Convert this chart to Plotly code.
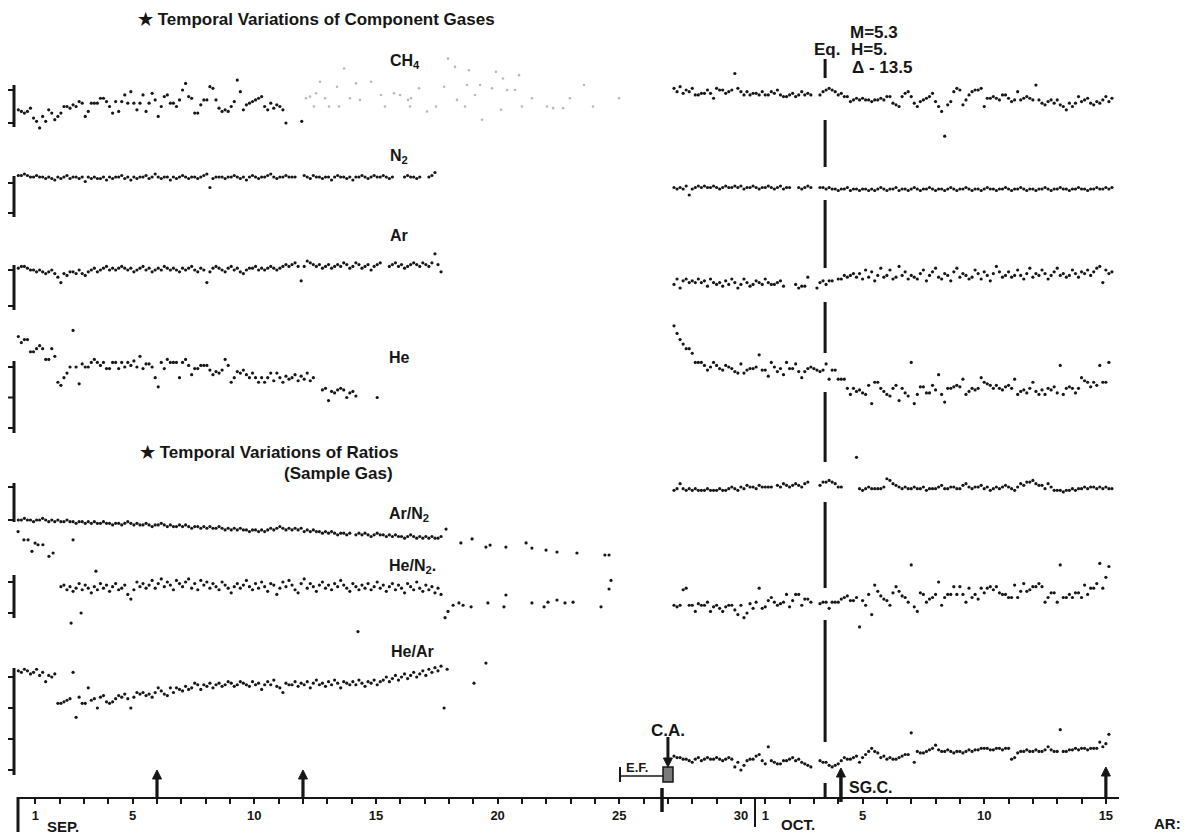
import plotly.graph_objects as go

W, H = 1184, 839

# ---- time base -------------------------------------------------------------
# day index: 1 = Sep 1, 30 = Sep 30, 31 = Oct 1 ... 45 = Oct 15
STEP = 0.125            # sampling interval, days (every 3 h)
LEFT_START = 0.3        # first sample of the September run
RIGHT_START = 27.25     # first sample after the restart (C.A.)
HEN2_START = 2.05       # He/N2 ratio run begins later

EQ_DAY = 33.46
CA_DAY = 27.0
SGC_DAY = 34.11
ARROW_DAYS = [6, 12, 45]

tick_days = list(range(1, 46))
label_days = [1, 5, 10, 15, 20, 25, 30, 31, 35, 40, 45]
label_text = ["1", "5", "10", "15", "20", "25", "30", "1", "5", "10", "15"]

# ---- CH4 -------------------------------------------------------------------
ch4_left = [8, 7, 6, 7, 9, 3, 1, -3, 4, 1, 8, 6, 2, 4, 6, 10, 10, 9, 11, 10,
            13, 12, 4, 7, 12, 12, 12, 15, 15, 13, 10, 6, 13, 7, 13, 17, 12, 19, 12, 8,
            12, 17, 7, 12, 18, 14, 4, 10,
            16, 17, 12, 12, 10, 14, 20, 24, 16, 15, 6, 6, 11, 14, 14, 22, 21, 14, 9, 7,
            8, 7, 10, 13, 26, 19, 8, 11, 12, 13, 14, 15, 16, 10, 8, 12, 9, 11, 10, 8]
ch4_extra_day = [11.3, 11.95]
ch4_extra_val = [0, 1]
ch4_faint_day = [12.12, 12.29, 12.45, 12.54, 12.70, 12.91, 13.07, 13.40, 13.48, 13.69,
                 13.93, 14.18, 14.34, 14.80, 15.21, 15.37, 15.74, 15.99, 16.32, 16.40,
                 16.44, 16.77, 17.10, 17.47, 17.80, 17.96, 18.25, 18.33, 18.66, 18.74,
                 18.82, 19.07, 19.28, 19.36, 19.77, 19.93, 20.14, 20.22, 20.39, 20.71,
                 20.88, 21.00, 21.41, 22.03, 22.28, 22.69, 22.97, 23.55, 23.92, 24.99]
ch4_faint_val = [15, 16, 10, 18, 25, 15, 10, 22, 10, 33, 15, 24, 14, 25, 17, 10, 18, 17, 14, 10,
                 15, 21, 7, 10, 22, 39, 34, 14, 10, 23, 32, 17, 23, 2, 21, 31, 8, 27, 20, 20,
                 29, 10, 15, 10, 9, 9, 15, 23, 10, 15]
ch4_right = [21, 19, 22, 18, 20, 19, 21, 17, 17, 18, 18, 20, 18, 15, 21, 20, 20, 18, 19, 20,
             30, 21, 19, 17, 19, 17, 18, 18, 17, 19, 17, 17, 19, 18, 20, 17, 16, 16, 17, 18,
             16, 17, 19, 17, 18, 17, None, None,
             17, 19, 20, 21, 20, 19, 17, 18, 16, 16, 13, 14, 15, 14, 15, 14, 14, 13, 14, 14,
             15, 14, 16, 16, 12, 11, 10, 16, 18, 19, 16, 12, 10, 13, 14, 15, 16, 18, 13, 10,
             7, -8, 11, 13, 19, 21, 20, 11, 14, 17, 19, 20, 20, 21, 10, 15, 15, 16, 15, 14,
             17, 17, 15, 13, 14, 19, 14, 15, 16, 15, 14, 23, 14, 12, 11, 13, 14, 12, 14, 11,
             10, 8, 12, 10, 12, 16, 13, 14, 15, 12, 11, 13, 12, 14, 16, 13, 15]

# ---- N2 --------------------------------------------------------------------
n2_left = [25, 25, 26, 25, 24, 24, 25, 24, 24, 23, 24, 23, 22, 24, 23, 24, 25, 23, 24, 24,
           23, 24, 21, 24, 23, 24, 23, 23, 24, 22, 24, 23, 24, 24, 25, 23, 24, 22, 24, 23,
           24, 24, 25, 23, 24, 26, 24, 23, 24, 24, 22, 24, 23, 24, 25, 24, 23, 24, 24, 23,
           24, 25, 26, 17, 23, 24, 24, 24, 23, 24, 24, 25, 24, 23, 24, 22, 24, 25, 24, 23,
           24, 24, 25, 26, 24, 23, 24, 24, 25, 24, 24, 24, None, None, 25, 24, 23, 25, 24, 24,
           23, 24, 24, 22, 24, 25, 24, 24, 23, 24, 22, 24, 24, 25, 24, 23, 24, 25, 24, 24,
           25, 24, 23, 24, None, None, None, 24, 25, 24, 24, 23, 24, None, None, 24, 25, 27]
n2_right = [17, 16, 17, 16, 18, 12, 16, 17, 18, 17, 18, 17, 17, 18, 17, 16, 17, 18, 17, 17,
            18, 17, 18, 16, 17, 17, 18, 17, 16, 17, 17, 18, 17, 16, 17, 18, 16, 17, 17, None,
            None, 17, 16, 17, 18, 17, None, None, 17, 17, 16, 17, 16, 16, 15, 16, 16, 17, 15, 16,
            16, 15, 16, 16, 15, 16, 15, 16, 17, 16, 15, 16, 16, 17, 15, 16, 16, 15, 16, 17,
            16, 15, 16, 16, 17, 16, 15, 16, 16, 15, 16, 17, 16, 15, 16, 16, 17, 16, 15, 16,
            16, 15, 16, 17, 16, 16, 15, 16, 16, 17, 16, 15, 16, 16, 17, 16, 15, 16, 16, 15,
            16, 16, 17, 16, 15, 16, 16, 17, 16, 16, 15, 16, 16, 17, 16, 16, 15, 16, 16, 17,
            16, 16, 17, 16, 17]

# ---- Ar --------------------------------------------------------------------
ar_left = [21, 22, 22, 21, 20, 20, 19, 20, 19, 18, 19, 20, 18, 16, 13, 18, 17, 19, 19, 18,
           20, 18, 17, 19, 20, 21, 19, 20, 21, 22, 20, 21, 20, 21, 22, 21, 20, 21, 19, 20,
           21, 22, 20, 21, 19, 20, 21, 20, 22, 21, 20, 21, 20, 19, 21, 20, 21, 22, 20, 19,
           21, 20, 13, 19, 21, 22, 21, 20, 19, 21, 22, 20, 21, 19, 18, 20, 21, 21, 22, 20,
           21, 20, 21, 22, 21, 20, 21, 22, 23, 22, 23, 24, 22, 14, 22, 25, 24, 23, 22, 23,
           21, 22, 23, 21, 22, 23, 22, 24, 23, 21, 22, 24, 23, 21, 22, 23, 20, 22, 23, 24,
           None, None, 22, 23, 24, 22, 23, 21, 22, 23, 24, 23, 22, 24, 23, 22, 24, 29, 23, 19]
ar_right = [12, 15, 10, 14, 15, 13, 14, 13, 15, 13, 14, 11, 15, 13, 12, 13, 11, 14, 12, 15,
            13, 10, 12, 15, 13, 11, 12, 14, 13, 12, 15, 13, 12, 12, 13, 14, 11, None, None, None,
            12, 10, 11, 11, 16, None, None, 10, 13, 14, 12, 14, 14, None, 15, 15, 17, 16, 17, 18,
            16, 18, 15, 20, 16, 19, 14, 17, 21, 16, 17, 20, 15, 16, 22, 17, 19, 15, 17, 16,
            15, 18, 20, 14, 17, 19, 21, 16, 15, 18, 17, 14, 19, 21, 16, 18, 17, 15, 16, 20,
            18, 15, 19, 17, 14, 18, 22, 19, 16, 17, 19, 16, 17, 20, 17, 15, 18, 21, 16, 18,
            17, 20, 18, 15, 17, 19, 21, 17, 18, 16, 17, 20, 18, 16, 19, 18, 20, 17, 19, 21,
            22, 13, 20, 18, 19]

# ---- He --------------------------------------------------------------------
he_left = [60, 56, 58, 58, 50, 50, 52, 54, 52, 45, 45, 52, 47, 30, 28, 33, 36, 40, 64, 40,
           29, 42, 40, 40, 43, 45, 43, 41, 43, 39, 39, 43, 43, 39, 43, 40, 43, 41, 44, 40,
           47, 39, 42, 42, 40, 33, 27, 43,
           39, 45, 43, 43, 43, 33, 43, 45, 41, 35, 39, 39, 41, 41, 41, 38, 35, 37, 36, 38,
           45, 41, 30, 33, 37, 36, 38, 35, 33, 36, 33, 30, 33, 30, 33, 36, 31, 36, 33, 30,
           34, 32, 33, 35, 31, 34, 32, 36, 31, 33,
           None, None, 25, 26, 18, 24, 23, 25, 26, 25, 20, 23, 24, 21,
           None, None, None, None, None, None, 20]
he_right = [67, 62, 58, 55, 52, 52, 49, 43, 43, 43, 41, 38, 40, 43, 41, 39, 38, 41, 40, 39,
            37, 36, 42, 36, 38, 39, 39, 40, 48, 38, 38, 34, 43, 40, 37, 39, 35, 43, 39, 39,
            42, 37, 33, 37, 39, 40, 39, 38, 37, 38, 42, 32, 38, 38, 32, 32, 32, 26, 22, 26,
            24, 25, 23, 22, 28, 16, 30, 30, 26, 24, 22, 21, 26, 28, 18, 26, 23, 21, 43, 16,
            22, 27, 27, 23, 23, 28, 25, 35, 22, 17, 26, 26, 27, 28, 27, 32, 22, 24, 26, 25,
            26, 33, 30, 29, 28, 26, 28, 26, 25, 27, 28, 26, 32, 22, 24, 25, 23, 26, 30, 24,
            22, 25, 22, 26, 25, 27, 23, 41, 22, 26, 27, 26, 23, 26, 33, 31, 30, 27, 30, 28,
            41, 30, 30, 43]

# ---- Ar/N2 -----------------------------------------------------------------
arn2_left = [20, 20, 21, 20, 20, 19, 20, 20, 21, 20, 19, 20, 19, 20, 19, 19, 20, 19, 19, 18,
             19, 19, 18, 19, 18, 19, 18, 18, 19, 18, 18, 17, 18, 18, 17, 18, 19, 18, 17, 18,
             17, 17, 18, 17, 16, 17, 17, 18, 17, 16, 17, 16, 16, 17, 16, 17, 16, 15, 16, 16,
             15, 16, 15, 16, 15, 15, 16, 15, 14, 15, 14, 15, 14, 15, 14, 14, 13, 14, 14, 13,
             14, 13, 14, 15, 14, 15, 16, 15, 14, 15, 14, 15, 14, 15, 13, 14, 13, 14, 13, 13,
             12, 13, 12, 13, 12, 11, 12, 12, 11, 12, None, 11, 12, 11, 12, 11, 10, 11, 12, 11,
             11, 10, 11, 10, 11, 10, 10, 9, 10, 11, 10, 9, 10, 9, 10, 9, 10, 9, 9, 10]
arn2_early_day = [0.29, 0.53, 0.70, 0.86, 0.99, 1.11, 1.31, 1.56, 1.73, 2.55]
arn2_early_val = [13, 8, 8, 1, 6, 5, 5, -2, 0, 8]
arn2_tail_day = [17.88, 18.49, 18.95, 19.52, 19.69, 20.34, 21.17, 21.41, 21.99, 22.44,
                 23.26, 24.41, 24.58]
arn2_tail_val = [14.5, 6.1, 8.5, 3.6, 4.8, 3.6, 6.1, 3.0, 1.8, 0.6, 0, -1.2, -1.2]
arn2_right = [38, 39, 42, 39, 38, 39, 38, 39, 38, 38, 38, 39, 38, 38, 38, 39, 38, 38, 39, 40,
              39, 38, 40, 39, 41, 40, 40, 39, 41, 40, 40, 40, 40, None, 41, 40, 42, 41, 40, 41,
              42, 41, 40, 42, 43, None, None, None, 41, 43, 43, 44, 43, 42, 40, 40, None, None,
              None, None, 58, 39, 38, 39, 40, 39, 39, 39, 39, 40, 45, 44, 42, 41, 40, 39, 40, 39,
              39, 40, 39, 39, 40, 38, 39, 39, 39, 40, 41, 39, 39, 40, 40, 39, 39, 41, 42, 40,
              39, 40, 40, 41, 39, 40, 38, 39, 40, 39, 40, 41, 40, 39, 38, 40, 42, 41, 43, 43,
              44, 42, 41, 41, 39, 42, 40, 38, 38, 38, 37, 38, 38, 39, 38, 39, 39, 40, 39, 40,
              40, 39, 40, 39, 40, 39, 39]

# ---- He/N2 -----------------------------------------------------------------
hen2_left = [17, 18, 15, 17, 14, 16, 19, 15, 18, 16, 13, 17, 15, 19, 16, 18, 14, 17, 19, 15,
             16, 18, 12, 9, 15, 20, 17, 19, 16, 18, 21, 16, 19, 22, 17, 20, 18, 15, 21, 19,
             17, 20, 22, 16, 19, 15, 21, 18, 20, 16, 19, 17, 15, 20, 18, 16, 13, 17, 19, 16,
             18, 21, 17, 15, 19, 16, 20, 17, 14, 19, 18, 12, 16, 20, 17, 21, 18, 15, 13, 19,
             22, 16, 19, 17, 14, 18, 20, 16, 18, 15, 19, 17, 21, 18, 16, 14, 19, 17, 15, 18,
             16, 19, 15, 17, 20, 16, 18, 14, 17, 19, 15, 18, 16, 13, 19, 17, 15, 20, 16, 14,
             18, 15, 17, 13, 16, 12]
hen2_extra_day = [2.47, 2.88, 3.49, 14.26,
                  17.84, 17.96, 18.17, 18.41, 18.58, 18.91, 19.60, 20.26, 20.34, 21.41,
                  21.91, 22.07, 22.44, 22.77, 23.10, 24.25, 24.58, 24.66]
hen2_extra_val = [-6.5, 0, 27, -12,
                  -3, 1, 5, 6.5, 5, 4, 6.5, 4, 11.6, 6.5, 4, 7, 8.4, 6.5, 7, 4, 15.5, 21]
hen2_right = [5, 4, 5, 15, 16, 5, 5, 1, 6, 5, 5, 7, 1, 4, 5, 3, 1, 4, 5, 5,
              2, -1, 5, -3, 0, 6, 3, 7, 16, 3, 4, 8, 10, 7, 5, 6, 7, 12, 4, 8,
              12, 12, 5, 9, 9, 7, None, None, 6, 7, 7, 3, 7, 7, 7, 9, 10, 11, 8, 8,
              10, -9, 8, 5, 12, -1, 18, 14, 11, 9, 8, 5, 13, 17, 14, 11, 10, 7, 31, 4,
              1, 13, 12, 7, 9, 10, 12, 20, 5, 10, 12, 12, 17, 12, 17, 12, 7, 16, 10, 12,
              9, 16, 13, 16, 17, 15, 17, 13, 12, 12, 10, 10, 18, 10, 14, 19, 14, 15, 17, 17,
              19, 17, 7, 10, 13, 13, 7, 31, 10, 10, 12, 10, 13, 13, 10, 18, 12, 16, 16, 19,
              32, 16, 23, 30]

# ---- He/Ar -----------------------------------------------------------------
hear_left = [64, 63, 65, 64, 62, 63, 65, 61, 63, 57, 61, 60, 62,
             43, 43, 44, 45, 46, 63, 34, 47, 43, 43, 53, 45, 46, 40, 47, 48, 44,
             43, 44, 46, 48, 47, 49, 46, 40, 47, 50, 49, 50, 48, 49, 47, 50, 53, 51, 49, 48,
             53, 50, 53, 52, 51, 54, 52, 53, 56, 55, 52, 55, 54, 56, 53, 55, 56, 54, 55, 57,
             56, 54, 55, 57, 56, 55, 54, 57, 55, 56, 52, 55, 57, 55, 58, 54, 53, 50, 56, 55,
             55, 57, 54, 56, 55, 57, 53, 56, 58, 55, 56, 54, 57, 55, 58, 56, 53, 57, 56, 55,
             57, 55, 58, 56, 54, 57, 56, 58, 55, 57, 58, 60, 57, 59, 61, 58, 60, 62, 59, 61,
             63, 60, 62, 64, 61, 65, 63, 66, 64, 67, 40, 65]
hear_tail_day = [19.03, 19.52]
hear_tail_val = [56, 69]
hear_right = [9, 8, 8, 7, 7, 6, 5, 7, 8, 6, 7, 8, 7, 7, 8, 7, 6, 7, 8, 7,
              2, 5, 0, 3, 6, 7, 7, 9, 10, 6, 4, 15, 6, 5, 4, 4, 6, 6, 7, 8,
              6, 7, 5, 4, 3, 2, None, None, 6, 5, 5, 3, 2, 3, 4, 6, 8, 7, 7, 8,
              9, 5, 8, 10, 12, 14, 12, 11, 8, 9, 7, 8, 7, 7, 8, 9, 10, 10, 24, 5,
              12, 11, 11, 12, 13, 14, 16, 13, 12, 12, 13, 12, 11, 12, 12, 11, 12, 13, 12, 13,
              13, 14, 14, 14, 13, 13, 14, 14, 13, 14, 14, 7, 8, 11, 12, 12, 13, 12, 12, 13,
              12, 12, 13, 15, 13, 12, 12, 26, 12, 12, 13, 13, 14, 13, 14, 14, 13, 14, 14, 14,
              18, 15, 17, 23]


# ---- helpers ---------------------------------------------------------------
def px_x(x):
    return x / W


def px_y(y):
    return 1 - y / H


def days_for(start, values):
    return [start + i * STEP for i in range(len(values))]


def value_map(p0, v0, p1, v1):
    per_px = (v1 - v0) / (p0 - p1)
    return lambda ypx: v0 + (p0 - ypx) * per_px


FONT = "Liberation Sans, Arial, Helvetica, sans-serif"
INK = "#161616"

# panel frames: bracket top/bottom (px), two reference ticks, tick values
panels = [
    dict(top=85, bottom=127, ref=(123, 0, 90, 20), ticks=[0, 20]),      # CH4
    dict(top=176, bottom=217, ref=(213, 0, 183, 20), ticks=[0, 20]),    # N2
    dict(top=265, bottom=310, ref=(306, 0, 270, 20), ticks=[0, 20]),    # Ar
    dict(top=361, bottom=433, ref=(428, 0, 367, 40), ticks=[0, 20, 40]),  # He
    dict(top=483, bottom=522, ref=(520, 20, 487, 40), ticks=[20, 40]),  # Ar/N2
    dict(top=575, bottom=618, ref=(613, 0, 582, 20), ticks=[0, 20]),    # He/N2
    dict(top=668, bottom=775, ref=(770, 0, 677, 60), ticks=[0, 20, 40, 60]),  # He/Ar
]
PAD = 75   # each panel's scale extends beyond its bracket so stray points stay visible

fig = go.Figure()


def add_dots(days, vals, panel, color=INK, size=3.2):
    fig.add_trace(go.Scatter(
        x=days, y=vals, mode="markers", xaxis="x", yaxis="y%d" % (panel + 1),
        marker=dict(color=color, size=size, line=dict(width=0)),
        cliponaxis=False, hoverinfo="skip", showlegend=False))


add_dots(days_for(LEFT_START, ch4_left), ch4_left, 0)
add_dots(ch4_extra_day, ch4_extra_val, 0)
add_dots(ch4_faint_day, ch4_faint_val, 0, color="#b9b9b9", size=2.6)
add_dots(days_for(RIGHT_START, ch4_right), ch4_right, 0)

add_dots(days_for(LEFT_START, n2_left), n2_left, 1)
add_dots(days_for(RIGHT_START, n2_right), n2_right, 1)

add_dots(days_for(LEFT_START, ar_left), ar_left, 2)
add_dots(days_for(RIGHT_START, ar_right), ar_right, 2)

add_dots(days_for(LEFT_START, he_left), he_left, 3)
add_dots(days_for(RIGHT_START, he_right), he_right, 3)

add_dots(days_for(LEFT_START, arn2_left), arn2_left, 4)
add_dots(arn2_early_day, arn2_early_val, 4)
add_dots(arn2_tail_day, arn2_tail_val, 4)
add_dots(days_for(RIGHT_START, arn2_right), arn2_right, 4)

add_dots(days_for(HEN2_START, hen2_left), hen2_left, 5)
add_dots(hen2_extra_day, hen2_extra_val, 5)
add_dots(days_for(RIGHT_START, hen2_right), hen2_right, 5)

add_dots(days_for(LEFT_START, hear_left), hear_left, 6)
add_dots(hear_tail_day, hear_tail_val, 6)
add_dots(days_for(RIGHT_START, hear_right), hear_right, 6)

# ---- axes ------------------------------------------------------------------
# x position of day d: 157 px at Sep 6, 24.33 px per day
PX_PER_DAY = 24.33
SEP6_PX = 157
AXIS_X0, AXIS_X1 = 18, 1119
AXIS_Y = 798
BRACKET_X = 14


def day_at(xpx):
    return 6 + (xpx - SEP6_PX) / PX_PER_DAY


layout = dict(
    width=W, height=H, autosize=False,
    margin=dict(l=0, r=0, t=0, b=0, pad=0),
    paper_bgcolor="white", plot_bgcolor="rgba(0,0,0,0)",
    showlegend=False,
    font=dict(family=FONT, color=INK),
    xaxis=dict(
        domain=[px_x(AXIS_X0), px_x(AXIS_X1)],
        range=[day_at(AXIS_X0), day_at(AXIS_X1)],
        anchor="free", position=px_y(AXIS_Y),
        showline=True, linecolor=INK, linewidth=2,
        showgrid=False, zeroline=False,
        tickmode="array", tickvals=label_days, ticktext=label_text,
        ticks="outside", ticklen=5, tickwidth=2, tickcolor=INK,
        minor=dict(tickmode="array", tickvals=tick_days, ticks="outside",
                   ticklen=5, tickwidth=2, tickcolor=INK, showgrid=False),
        tickfont=dict(family=FONT, size=13, color=INK, weight="bold"),
    ),
)

shapes = []
for i, p in enumerate(panels):
    to_val = value_map(*p["ref"])
    top_ext = max(0, p["top"] - PAD)
    bot_ext = min(H, p["bottom"] + PAD)
    yname = "y%d" % (i + 1)
    layout["yaxis" if i == 0 else "yaxis%d" % (i + 1)] = dict(
        domain=[px_y(bot_ext), px_y(top_ext)],
        range=[to_val(bot_ext), to_val(top_ext)],
        anchor="free", position=px_x(BRACKET_X),
        visible=False, showgrid=False, zeroline=False,
    )
    # scale bracket with its ticks, in the panel's own units
    shapes.append(dict(type="line", xref="paper", yref=yname,
                       x0=px_x(BRACKET_X), x1=px_x(BRACKET_X),
                       y0=to_val(p["bottom"]), y1=to_val(p["top"]),
                       line=dict(color=INK, width=3)))
    for t in p["ticks"]:
        shapes.append(dict(type="line", xref="paper", yref=yname,
                           x0=px_x(BRACKET_X - 6), x1=px_x(BRACKET_X),
                           y0=t, y1=t, line=dict(color=INK, width=2)))

fig.update_layout(**layout)


# ---- event markers ---------------------------------------------------------
def vline(day, y0, y1, width=3):
    shapes.append(dict(type="line", xref="x", yref="paper", x0=day, x1=day,
                       y0=px_y(y0), y1=px_y(y1), line=dict(color=INK, width=width)))


def arrow(day, head, tail, width=3.2):
    """Vertical arrow drawn as a shaft plus a filled head (head/tail in px)."""
    direction = 1 if tail > head else -1          # +1: pointing up
    hl, hw = 9, 4.5 / PX_PER_DAY
    vline(day, head + direction * (hl - 1), tail, width)
    base = head + direction * hl
    shapes.append(dict(
        type="path", xref="x", yref="paper",
        path="M %f,%f L %f,%f L %f,%f Z" % (day, px_y(head), day - hw, px_y(base),
                                            day + hw, px_y(base)),
        fillcolor=INK, line=dict(color=INK, width=1)))


# earthquake line, broken where it crosses the data rows
for y0, y1 in [(59, 78), (120, 167), (200, 268), (302, 353), (392, 462),
               (502, 588), (620, 742), (783, 797)]:
    vline(EQ_DAY, y0, y1, 3)

vline(day_at(755), 797, 827, 2)          # month divider
vline(day_at(662), 788, 812, 3.5)        # mark below the axis at C.A.
vline(day_at(620), 767, 782, 2)          # E.F. start
shapes.append(dict(type="line", xref="x", yref="paper", x0=day_at(620), x1=day_at(663),
                   y0=px_y(776), y1=px_y(776), line=dict(color=INK, width=1.5)))
shapes.append(dict(type="rect", xref="x", yref="paper", x0=day_at(663), x1=day_at(673),
                   y0=px_y(782), y1=px_y(767), fillcolor="#7a7a7a",
                   line=dict(color=INK, width=1.5)))
# left bracket of the month axis
shapes.append(dict(type="line", xref="paper", yref="paper", x0=px_x(18), x1=px_x(18),
                   y0=px_y(797), y1=px_y(832), line=dict(color=INK, width=3)))

for d in ARROW_DAYS:
    arrow(d, 770 if d != 45 else 767, 797)
arrow(SGC_DAY, 768, 802, 3.5)
arrow(CA_DAY, 767, 737, 3)

fig.update_layout(shapes=shapes)

ann = []


def label(text, x, y, size=15, anchor="left"):
    ann.append(dict(text=text, x=px_x(x), y=px_y(y), xref="paper", yref="paper",
                    xanchor=anchor, yanchor="middle", showarrow=False,
                    font=dict(family=FONT, size=size, color=INK, weight="bold")))


label("★ Temporal Variations of Component Gases", 136, 20, 17)
label("CH<sub>4</sub>", 388, 62, 16)
label("N<sub>2</sub>", 388, 157, 16)
label("Ar", 388, 235, 16)
label("He", 387, 357, 16)
label("★ Temporal Variations of Ratios", 138, 452, 17)
label("(Sample Gas)", 282, 473, 17)
label("Ar/N<sub>2</sub>", 387, 514, 16)
label("He/N<sub>2</sub>.", 387, 566, 16)
label("He/Ar", 389, 651, 16)
label("M=5.3", 848, 33, 17)
label("Eq.", 812, 50, 17)
label("H=5.", 849, 50, 17)
label("Δ - 13.5", 850, 67, 17)
label("C.A.", 668, 730, 17, "center")
label("E.F.", 637, 767, 13, "center")
label("SG.C.", 847, 787, 16)
label("SEP.", 45, 826, 15)
label("OCT.", 779, 824, 15)
label("AR:", 1152, 823, 15)

fig.update_layout(annotations=ann)

fig.write_html("out.html", config={"displayModeBar": False},
               post_script="document.body.style.margin='0';")
